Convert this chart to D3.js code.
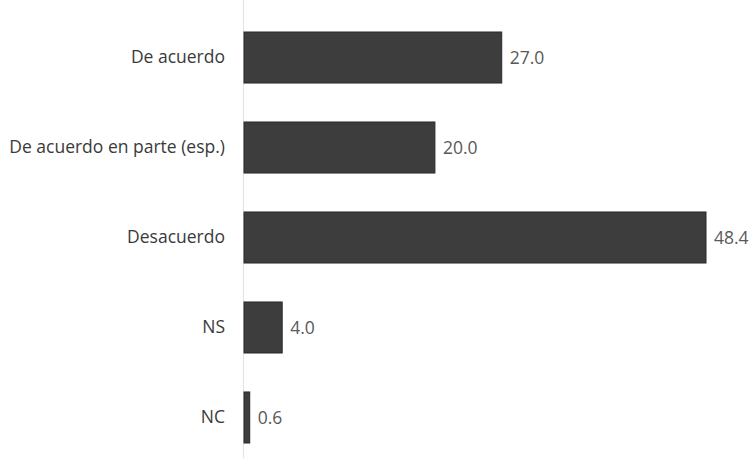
<!DOCTYPE html>
<html>
<head>
<meta charset="utf-8">
<script src="https://cdn.jsdelivr.net/npm/d3@7"></script>
<style>
  html, body { margin: 0; padding: 0; background: #fff; }
  svg { display: block; }
  text { font-family: "Open Sans", "Liberation Sans", sans-serif; }
</style>
</head>
<body>
<svg id="chart" width="750" height="458"></svg>
<script>
// Survey responses (%)
const categories = ["De acuerdo", "De acuerdo en parte (esp.)", "Desacuerdo", "NS", "NC"];
const values = [27.0, 20.0, 48.4, 4.0, 0.6];

const width = 750, height = 458;
const margin = { top: 23, right: 44, bottom: 6, left: 244 };

const svg = d3.select("#chart");

const x = d3.scaleLinear()
  .domain([0, 48.4])
  .range([margin.left, width - margin.right]);

const y = d3.scaleBand()
  .domain(categories)
  .range([margin.top, height - margin.bottom])
  .paddingInner(0.433)
  .paddingOuter(0.1);

// Baseline
svg.append("line")
  .attr("x1", x(0) - 0.5).attr("x2", x(0) - 0.5)
  .attr("y1", 0).attr("y2", height)
  .attr("stroke", "#e2e2e2")
  .attr("stroke-width", 1);

// Bars
svg.append("g")
  .selectAll("rect")
  .data(categories)
  .join("rect")
  .attr("x", x(0))
  .attr("y", d => y(d))
  .attr("width", (d, i) => x(values[i]) - x(0))
  .attr("height", y.bandwidth())
  .attr("fill", "#3d3d3d")
  .attr("stroke", "#2a2a2a")
  .attr("stroke-width", 1);

// Category labels
const yAxis = d3.axisLeft(y).tickSize(0).tickPadding(19);
const gy = svg.append("g")
  .attr("transform", `translate(${x(0)},0)`)
  .call(yAxis);
gy.select(".domain").remove();
gy.selectAll("text")
  .attr("font-size", 17.5)
  .attr("fill", "#3a3a3a")
  .style("font-family", "\"Open Sans\", sans-serif");

// Value labels
svg.append("g")
  .selectAll("text")
  .data(categories)
  .join("text")
  .attr("x", (d, i) => x(values[i]) + 8)
  .attr("y", d => y(d) + y.bandwidth() / 2)
  .attr("dy", "0.35em")
  .attr("font-size", 17.5)
  .attr("fill", "#595959")
  .text((d, i) => values[i].toFixed(1));
</script>
</body>
</html>
